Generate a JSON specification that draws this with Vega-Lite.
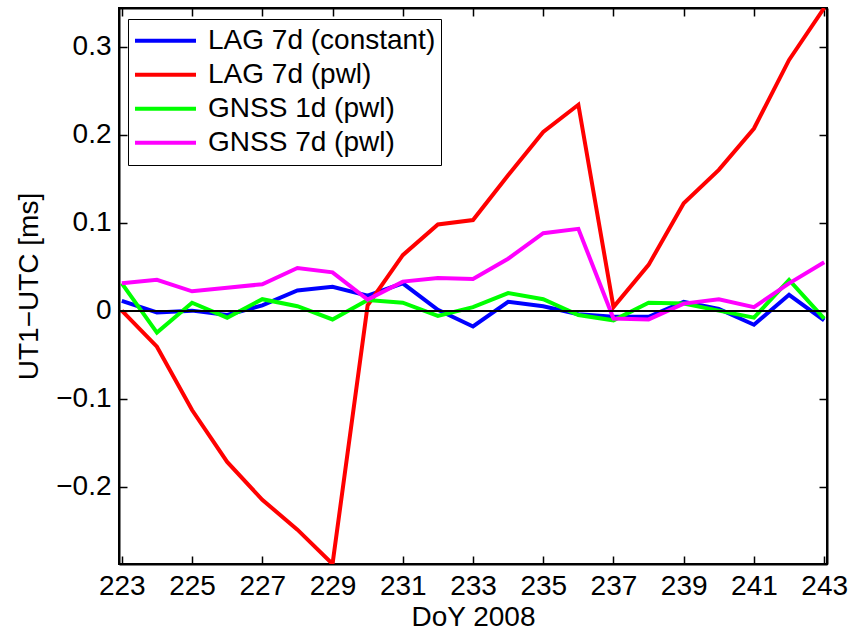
{
  "$schema": "https://vega.github.io/schema/vega-lite/v6.json",
  "width": 708,
  "height": 556,
  "autosize": {"type": "none"},
  "padding": {"left": 119, "top": 8, "right": 24, "bottom": 70},
  "background": "white",
  "config": {
    "view": {"stroke": "black", "strokeWidth": 2},
    "font": "Liberation Sans",
    "axis": {
      "grid": false,
      "domainColor": "black",
      "domainWidth": 2,
      "tickColor": "black",
      "tickWidth": 1.5,
      "tickSize": -8,
      "labelFont": "Liberation Sans",
      "labelFontSize": 28,
      "labelColor": "black",
      "titleFont": "Liberation Sans",
      "titleFontSize": 28,
      "titleFontWeight": "normal",
      "titleColor": "black"
    }
  },
  "data": {
    "values": [
      {"doy": 223, "series": "LAG 7d (constant)", "value": 0.011},
      {"doy": 224, "series": "LAG 7d (constant)", "value": -0.002},
      {"doy": 225, "series": "LAG 7d (constant)", "value": 0.0},
      {"doy": 226, "series": "LAG 7d (constant)", "value": -0.005},
      {"doy": 227, "series": "LAG 7d (constant)", "value": 0.006},
      {"doy": 228, "series": "LAG 7d (constant)", "value": 0.023},
      {"doy": 229, "series": "LAG 7d (constant)", "value": 0.027},
      {"doy": 230, "series": "LAG 7d (constant)", "value": 0.017},
      {"doy": 231, "series": "LAG 7d (constant)", "value": 0.031},
      {"doy": 232, "series": "LAG 7d (constant)", "value": 0.001},
      {"doy": 233, "series": "LAG 7d (constant)", "value": -0.018},
      {"doy": 234, "series": "LAG 7d (constant)", "value": 0.010},
      {"doy": 235, "series": "LAG 7d (constant)", "value": 0.005},
      {"doy": 236, "series": "LAG 7d (constant)", "value": -0.004},
      {"doy": 237, "series": "LAG 7d (constant)", "value": -0.007},
      {"doy": 238, "series": "LAG 7d (constant)", "value": -0.007},
      {"doy": 239, "series": "LAG 7d (constant)", "value": 0.010},
      {"doy": 240, "series": "LAG 7d (constant)", "value": 0.002},
      {"doy": 241, "series": "LAG 7d (constant)", "value": -0.016},
      {"doy": 242, "series": "LAG 7d (constant)", "value": 0.018},
      {"doy": 243, "series": "LAG 7d (constant)", "value": -0.011},
      {"doy": 223, "series": "LAG 7d (pwl)", "value": 0.0},
      {"doy": 224, "series": "LAG 7d (pwl)", "value": -0.041},
      {"doy": 225, "series": "LAG 7d (pwl)", "value": -0.113},
      {"doy": 226, "series": "LAG 7d (pwl)", "value": -0.172},
      {"doy": 227, "series": "LAG 7d (pwl)", "value": -0.215},
      {"doy": 228, "series": "LAG 7d (pwl)", "value": -0.249},
      {"doy": 229, "series": "LAG 7d (pwl)", "value": -0.288},
      {"doy": 230, "series": "LAG 7d (pwl)", "value": 0.006},
      {"doy": 231, "series": "LAG 7d (pwl)", "value": 0.063},
      {"doy": 232, "series": "LAG 7d (pwl)", "value": 0.098},
      {"doy": 233, "series": "LAG 7d (pwl)", "value": 0.103},
      {"doy": 234, "series": "LAG 7d (pwl)", "value": 0.154},
      {"doy": 235, "series": "LAG 7d (pwl)", "value": 0.203},
      {"doy": 236, "series": "LAG 7d (pwl)", "value": 0.234},
      {"doy": 237, "series": "LAG 7d (pwl)", "value": 0.004},
      {"doy": 238, "series": "LAG 7d (pwl)", "value": 0.052},
      {"doy": 239, "series": "LAG 7d (pwl)", "value": 0.122},
      {"doy": 240, "series": "LAG 7d (pwl)", "value": 0.160},
      {"doy": 241, "series": "LAG 7d (pwl)", "value": 0.207},
      {"doy": 242, "series": "LAG 7d (pwl)", "value": 0.285},
      {"doy": 243, "series": "LAG 7d (pwl)", "value": 0.344},
      {"doy": 223, "series": "GNSS 1d (pwl)", "value": 0.031},
      {"doy": 224, "series": "GNSS 1d (pwl)", "value": -0.025},
      {"doy": 225, "series": "GNSS 1d (pwl)", "value": 0.009},
      {"doy": 226, "series": "GNSS 1d (pwl)", "value": -0.008},
      {"doy": 227, "series": "GNSS 1d (pwl)", "value": 0.013},
      {"doy": 228, "series": "GNSS 1d (pwl)", "value": 0.005},
      {"doy": 229, "series": "GNSS 1d (pwl)", "value": -0.010},
      {"doy": 230, "series": "GNSS 1d (pwl)", "value": 0.012},
      {"doy": 231, "series": "GNSS 1d (pwl)", "value": 0.009},
      {"doy": 232, "series": "GNSS 1d (pwl)", "value": -0.006},
      {"doy": 233, "series": "GNSS 1d (pwl)", "value": 0.004},
      {"doy": 234, "series": "GNSS 1d (pwl)", "value": 0.020},
      {"doy": 235, "series": "GNSS 1d (pwl)", "value": 0.013},
      {"doy": 236, "series": "GNSS 1d (pwl)", "value": -0.005},
      {"doy": 237, "series": "GNSS 1d (pwl)", "value": -0.011},
      {"doy": 238, "series": "GNSS 1d (pwl)", "value": 0.009},
      {"doy": 239, "series": "GNSS 1d (pwl)", "value": 0.008},
      {"doy": 240, "series": "GNSS 1d (pwl)", "value": 0.0},
      {"doy": 241, "series": "GNSS 1d (pwl)", "value": -0.008},
      {"doy": 242, "series": "GNSS 1d (pwl)", "value": 0.035},
      {"doy": 243, "series": "GNSS 1d (pwl)", "value": -0.009},
      {"doy": 223, "series": "GNSS 7d (pwl)", "value": 0.031},
      {"doy": 224, "series": "GNSS 7d (pwl)", "value": 0.035},
      {"doy": 225, "series": "GNSS 7d (pwl)", "value": 0.022},
      {"doy": 226, "series": "GNSS 7d (pwl)", "value": 0.026},
      {"doy": 227, "series": "GNSS 7d (pwl)", "value": 0.030},
      {"doy": 228, "series": "GNSS 7d (pwl)", "value": 0.0485},
      {"doy": 229, "series": "GNSS 7d (pwl)", "value": 0.0435},
      {"doy": 230, "series": "GNSS 7d (pwl)", "value": 0.0125},
      {"doy": 231, "series": "GNSS 7d (pwl)", "value": 0.033},
      {"doy": 232, "series": "GNSS 7d (pwl)", "value": 0.037},
      {"doy": 233, "series": "GNSS 7d (pwl)", "value": 0.036},
      {"doy": 234, "series": "GNSS 7d (pwl)", "value": 0.059},
      {"doy": 235, "series": "GNSS 7d (pwl)", "value": 0.088},
      {"doy": 236, "series": "GNSS 7d (pwl)", "value": 0.093},
      {"doy": 237, "series": "GNSS 7d (pwl)", "value": -0.009},
      {"doy": 238, "series": "GNSS 7d (pwl)", "value": -0.010},
      {"doy": 239, "series": "GNSS 7d (pwl)", "value": 0.008},
      {"doy": 240, "series": "GNSS 7d (pwl)", "value": 0.013},
      {"doy": 241, "series": "GNSS 7d (pwl)", "value": 0.004},
      {"doy": 242, "series": "GNSS 7d (pwl)", "value": 0.031},
      {"doy": 243, "series": "GNSS 7d (pwl)", "value": 0.055}
    ]
  },
  "layer": [
    {
      "mark": {"type": "line", "strokeWidth": 4, "clip": true},
      "encoding": {
        "x": {
          "field": "doy", "type": "quantitative",
          "scale": {"domain": [222.92, 243.08], "nice": false, "zero": false},
          "axis": {"values": [223, 225, 227, 229, 231, 233, 235, 237, 239, 241, 243], "labelPadding": 16, "title": "DoY 2008", "titlePadding": 3}
        },
        "y": {
          "field": "value", "type": "quantitative",
          "scale": {"domain": [-0.288, 0.344], "nice": false, "zero": false},
          "axis": {"values": [-0.2, -0.1, 0, 0.1, 0.2, 0.3], "format": "~f", "labelPadding": 16, "title": "UT1−UTC [ms]", "titlePadding": 12}
        },
        "color": {
          "field": "series", "type": "nominal",
          "scale": {
            "domain": ["LAG 7d (constant)", "LAG 7d (pwl)", "GNSS 1d (pwl)", "GNSS 7d (pwl)"],
            "range": ["#0000ff", "#ff0000", "#00ff00", "#ff00ff"]
          },
          "legend": {
            "orient": "none", "legendX": 9, "legendY": 11, "title": null,
            "symbolType": "stroke", "symbolSize": 3721, "symbolStrokeWidth": 4,
            "clipHeight": 33.5, "rowPadding": 0,
            "labelFont": "Liberation Sans", "labelFontSize": 28, "labelColor": "black",
            "labelOffset": 10, "labelLimit": 400,
            "strokeColor": "black", "fillColor": "white", "padding": 5
          }
        }
      }
    },
    {
      "mark": {"type": "rule", "color": "black", "strokeWidth": 1.5},
      "encoding": {"y": {"datum": 0, "axis": null}}
    },
    {
      "mark": {"type": "line", "opacity": 0},
      "encoding": {
        "x": {"field": "doy", "type": "quantitative", "axis": {"orient": "top", "values": [223, 225, 227, 229, 231, 233, 235, 237, 239, 241, 243], "labels": false, "title": null}},
        "y": {"field": "value", "type": "quantitative", "axis": {"orient": "right", "values": [-0.2, -0.1, 0, 0.1, 0.2, 0.3], "labels": false, "title": null}},
        "detail": {"field": "series"}
      }
    }
  ],
  "resolve": {"axis": {"x": "independent", "y": "independent"}}
}
